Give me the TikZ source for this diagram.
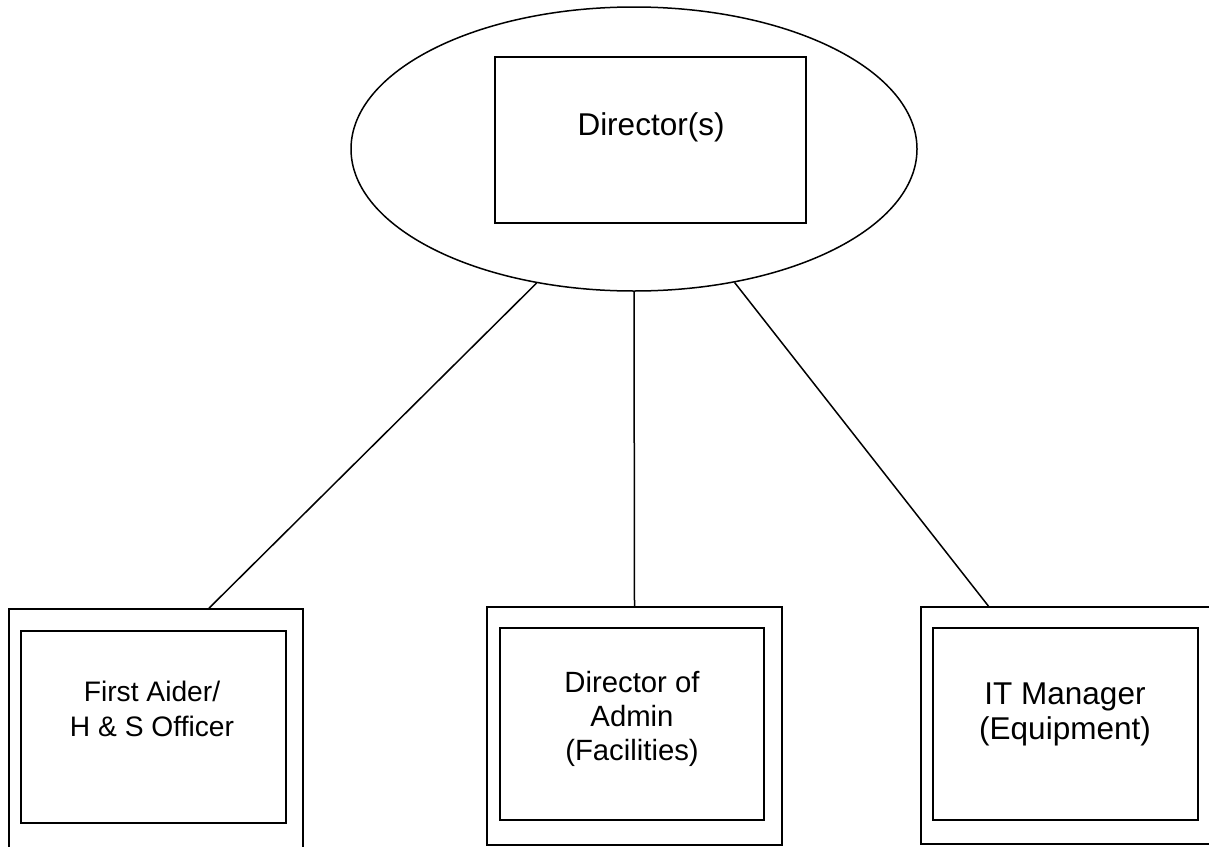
\documentclass[tikz,border=0pt]{standalone}
\usepackage{fontspec}
\setmainfont{Liberation Sans}
\usetikzlibrary{shapes.geometric}

\begin{document}
\begin{tikzpicture}[x=0.5pt, y=-0.5pt, inner sep=0pt]
    \tikzstyle{box}=[rectangle, draw=black, line width=0.8pt]
    \tikzstyle{link}=[draw=black, line width=0.75pt]
    \tikzstyle{txt}=[align=center, text=black]

    \useasboundingbox (0,0) rectangle (1209,846);
    \clip (0,0) rectangle (1209,846);

    % top: director(s)
    \node[ellipse, draw=black, line width=0.75pt, minimum width=283pt, minimum height=142pt] (Ell) at (634,149) {};
    \node[box, minimum width=155.5pt, minimum height=83pt] (Dir) at (650.5,140) {};
    \node[txt, font=\fontsize{15.75}{19}\selectfont, anchor=base] (DirT) at (651,135) {Director(s)};

    % bottom row
    \node[box, minimum width=147pt, minimum height=130.5pt] (Fa) at (156,739.5) {};
    \node[box, minimum width=132.5pt, minimum height=96pt] (FaIn) at (153.5,727) {};
    \node[txt, font=\fontsize{14.1}{17.85}\selectfont] (FaT) at (152,709) {First Aider/\\H \& S Officer};

    \node[box, minimum width=147.5pt, minimum height=119pt] (Adm) at (634.5,726) {};
    \node[box, minimum width=132pt, minimum height=96pt] (AdmIn) at (632,724) {};
    \node[txt, font=\fontsize{14.65}{17}\selectfont] (AdmT) at (632,718.5) {Director of\\Admin\\(Facilities)};

    \node[box, minimum width=147.5pt, minimum height=118.5pt] (IT) at (1068.5,725.5) {};
    \node[box, minimum width=132.5pt, minimum height=96pt] (ITIn) at (1065.5,724) {};
    \node[txt, font=\fontsize{15.75}{17.5}\selectfont] (ITT) at (1065,714.5) {IT Manager\\(Equipment)};

    \draw[link] (Ell.234) to ([xshift=26.5pt]Fa.north);
    \draw[link] (Ell.south) to (Adm.north);
    \draw[link] (Ell.307) to ([xshift=-40pt]IT.north);
\end{tikzpicture}
\end{document}
